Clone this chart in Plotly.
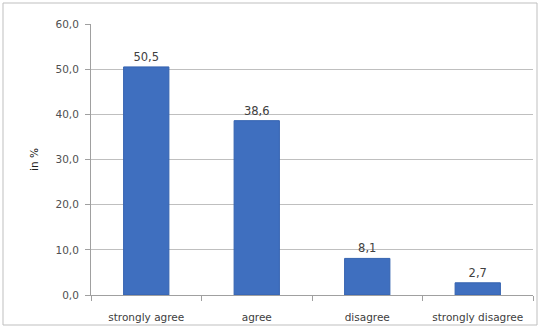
import plotly.graph_objects as go

categories = ["strongly agree", "agree", "disagree", "strongly disagree"]
values = [50.5, 38.6, 8.1, 2.7]
y_ticks = [0, 10, 20, 30, 40, 50, 60]

FONT = "DejaVu Sans, Verdana, sans-serif"

fig = go.Figure()
fig.add_trace(go.Bar(
    x=categories, y=values,
    width=0.41,
    marker=dict(color="#3F6FBF", line=dict(color="#3563B0", width=1)),
    text=[f"{v:.1f}".replace(".", ",") for v in values],
    textposition="outside",
    textfont=dict(family=FONT, size=11.5, color="#404040"),
    cliponaxis=False,
))

fig.update_layout(
    width=540, height=329,
    margin=dict(l=91, r=7, t=24, b=34),
    paper_bgcolor="white", plot_bgcolor="white",
    separators=", ",
    showlegend=False,
    bargap=0.59,
    font=dict(family=FONT, size=10.5, color="#505050"),
    shapes=[dict(type="rect", xref="paper", yref="paper",
                 x0=-88/442, x1=1+4/442, y0=-30/271, y1=1+21/271,
                 line=dict(color="#BFBFBF", width=1))],
)
fig.update_yaxes(
    range=[0, 60], tickvals=y_ticks, tickformat=".1f",
    showgrid=True, gridcolor="#BFBFBF", gridwidth=1,
    showline=True, linecolor="#A0A0A0", linewidth=1,
    ticks="outside", ticklen=5, tickcolor="#A0A0A0",
    ticklabelstandoff=4,
    tickfont=dict(family=FONT, size=10.5, color="#505050"),
    title=dict(text="in %", font=dict(family=FONT, size=10.5, color="#202020"), standoff=14),
    zeroline=False,
)
fig.update_xaxes(
    showline=True, linecolor="#A0A0A0", linewidth=1,
    ticks="outside", ticklen=5, tickcolor="#A0A0A0",
    tickson="boundaries",
    ticklabelstandoff=12,
    tickfont=dict(family=FONT, size=10.5, color="#404040"),
)

fig.write_html("out.html", config={"displayModeBar": False},
               post_script="document.body.style.margin='0';")
